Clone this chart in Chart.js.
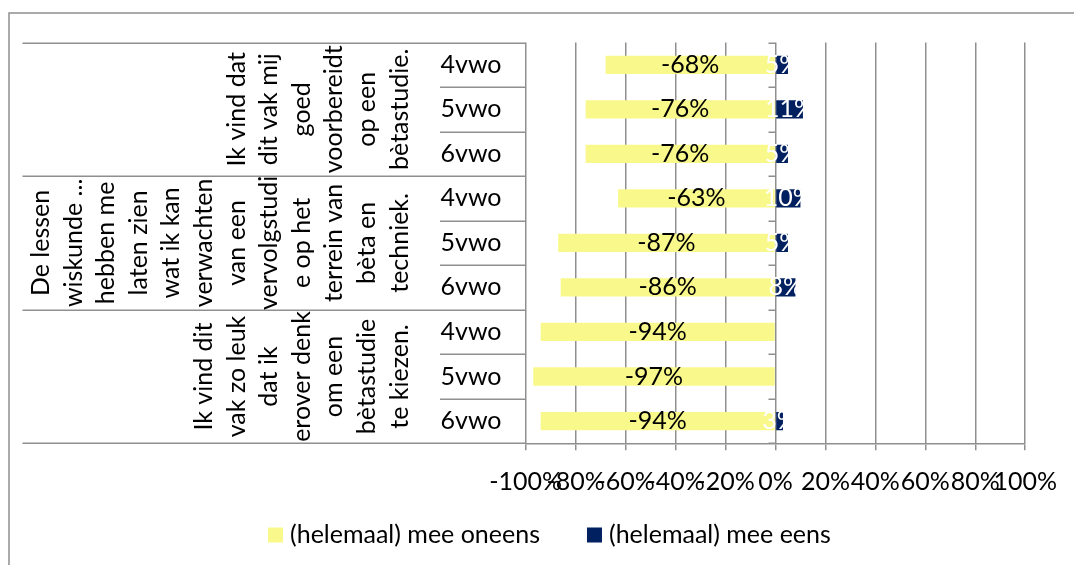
<!DOCTYPE html>
<html>
<head>
<meta charset="utf-8">
<script src="https://cdn.jsdelivr.net/npm/chart.js@4.4.1/dist/chart.umd.min.js"></script>
<style>
  html, body { margin: 0; padding: 0; background: #ffffff; }
  canvas { display: block; }
</style>
</head>
<body>
<canvas id="chart" width="1074" height="565"></canvas>
<script>
// School years per statement (top to bottom)
const levels = ['4vwo', '5vwo', '6vwo', '4vwo', '5vwo', '6vwo', '4vwo', '5vwo', '6vwo'];

// Statements, one per block of three rows, already broken into lines
const statements = [
  ['Ik vind dat', 'dit vak mij', 'goed', 'voorbereidt', 'op een', 'bètastudie.'],
  ['De lessen', 'wiskunde ...', 'hebben me', 'laten zien', 'wat ik kan', 'verwachten',
   'van een', 'vervolgstudi', 'e op het', 'terrein van', 'bèta en', 'techniek.'],
  ['Ik vind dit', 'vak zo leuk', 'dat ik', 'erover denk', 'om een', 'bètastudie', 'te kiezen.']
];

// Percentages
const disagree = [-68, -76, -76, -63, -87, -86, -94, -97, -94];
const agree = [5, 11, 5, 10, 5, 8, 0, 0, 3];

const seriesNames = ['(helemaal) mee oneens', '(helemaal) mee eens'];
const xTickValues = [-100, -80, -60, -40, -20, 0, 20, 40, 60, 80, 100];

const FONT = 'Lato, "Open Sans", sans-serif';
const FONT_SIZE = 25;
const LINE_GREY = '#8f8f8f';
const LINE_W = 1.5;

// Draws the frame, the statement/level table left of the plot and the
// small tick marks on the 0% axis.
const tablePlugin = {
  id: 'statementTable',
  afterDraw(chart) {
    const { ctx, chartArea: ca, scales: { x, y } } = chart;
    const rows = levels.length;
    const perGroup = rows / statements.length;
    const step = y.getPixelForValue(1) - y.getPixelForValue(0);
    const edge = i => y.getPixelForValue(i) - step / 2;
    const x0 = x.getPixelForValue(0);

    ctx.save();
    // outer frame (left and top edges)
    ctx.strokeStyle = LINE_GREY;
    ctx.lineWidth = LINE_W;
    ctx.beginPath();
    ctx.moveTo(9, 570);
    ctx.lineTo(9, 13);
    ctx.lineTo(1080, 13);
    ctx.stroke();

    // row separators
    for (let i = 0; i <= rows; i++) {
      const yy = Math.round(edge(i)) + 0.25;
      const startX = (i % perGroup === 0) ? 22.5 : 440;
      ctx.beginPath();
      ctx.moveTo(startX, yy);
      ctx.lineTo(ca.left, yy);
      ctx.stroke();
      ctx.beginPath();
      ctx.moveTo(x0 - 7, yy);
      ctx.lineTo(x0, yy);
      ctx.stroke();
    }

    ctx.fillStyle = '#000000';
    ctx.font = FONT_SIZE + 'px ' + FONT;
    ctx.textAlign = 'center';
    ctx.textBaseline = 'middle';

    // level labels
    levels.forEach((lab, i) => {
      ctx.fillText(lab, 471, y.getPixelForValue(i));
    });

    // statements, rotated, last line aligned next to the level column
    const lastX = 399.5, lineStep = 32.6;
    statements.forEach((lines, g) => {
      const cy = (y.getPixelForValue(g * perGroup) + y.getPixelForValue(g * perGroup + perGroup - 1)) / 2;
      lines.forEach((line, k) => {
        const lx = lastX - (lines.length - 1 - k) * lineStep;
        ctx.save();
        ctx.translate(lx, cy);
        ctx.rotate(-Math.PI / 2);
        ctx.fillText(line, 0, 0);
        ctx.restore();
      });
    });

    // legend row below the axis
    ctx.textAlign = 'left';
    let lx = 268;
    const ly = 535;
    chart.data.datasets.forEach(ds => {
      ctx.fillStyle = ds.backgroundColor;
      ctx.fillRect(lx, ly - 7.5, 15, 15);
      ctx.fillStyle = '#000000';
      ctx.fillText(ds.label, lx + 22, ly);
      lx += 22 + ctx.measureText(ds.label).width + 47;
    });
    ctx.restore();
  }
};

// Value labels centred on each bar
const valueLabels = {
  id: 'valueLabels',
  afterDatasetsDraw(chart) {
    const { ctx } = chart;
    ctx.save();
    ctx.font = FONT_SIZE + 'px ' + FONT;
    ctx.textAlign = 'center';
    ctx.textBaseline = 'middle';
    chart.data.datasets.forEach((ds, di) => {
      const meta = chart.getDatasetMeta(di);
      meta.data.forEach((bar, i) => {
        const v = ds.data[i];
        if (!v) return;
        ctx.fillStyle = ds.labelColor;
        ctx.fillText(v + '%', (bar.x + bar.base) / 2, bar.y);
      });
    });
    ctx.restore();
  }
};

new Chart(document.getElementById('chart'), {
  type: 'bar',
  data: {
    labels: levels,
    datasets: [
      {
        label: seriesNames[0],
        data: disagree,
        backgroundColor: '#f9f98b',
        borderWidth: 0,
        labelColor: '#000000'
      },
      {
        label: seriesNames[1],
        data: agree,
        backgroundColor: '#002060',
        borderWidth: 0,
        labelColor: '#ffffff'
      }
    ]
  },
  options: {
    indexAxis: 'y',
    responsive: false,
    animation: false,
    devicePixelRatio: 1,
    barPercentage: 0.41,
    categoryPercentage: 1.0,
    layout: { padding: { top: 42.5, right: 48.3, bottom: 61.7, left: 0 } },
    scales: {
      x: {
        stacked: true,
        min: -100,
        max: 100,
        afterBuildTicks: s => { s.ticks = xTickValues.map(v => ({ value: v })); },
        afterFit: s => { s.height = 60; },
        grid: { color: LINE_GREY, lineWidth: LINE_W, tickLength: 7, drawTicks: true },
        border: { display: true, color: LINE_GREY, width: LINE_W },
        ticks: {
          autoSkip: false,
          maxRotation: 0,
          minRotation: 0,
          padding: 17,
          color: '#000000',
          font: { family: FONT, size: FONT_SIZE },
          callback: v => v + '%'
        }
      },
      y: {
        stacked: true,
        afterFit: s => { s.width = 525.7; },
        grid: { display: false },
        border: { display: false },
        ticks: { display: false }
      }
    },
    plugins: {
      tooltip: { enabled: false },
      legend: { display: false }
    }
  },
  plugins: [tablePlugin, valueLabels]
});
</script>
</body>
</html>
